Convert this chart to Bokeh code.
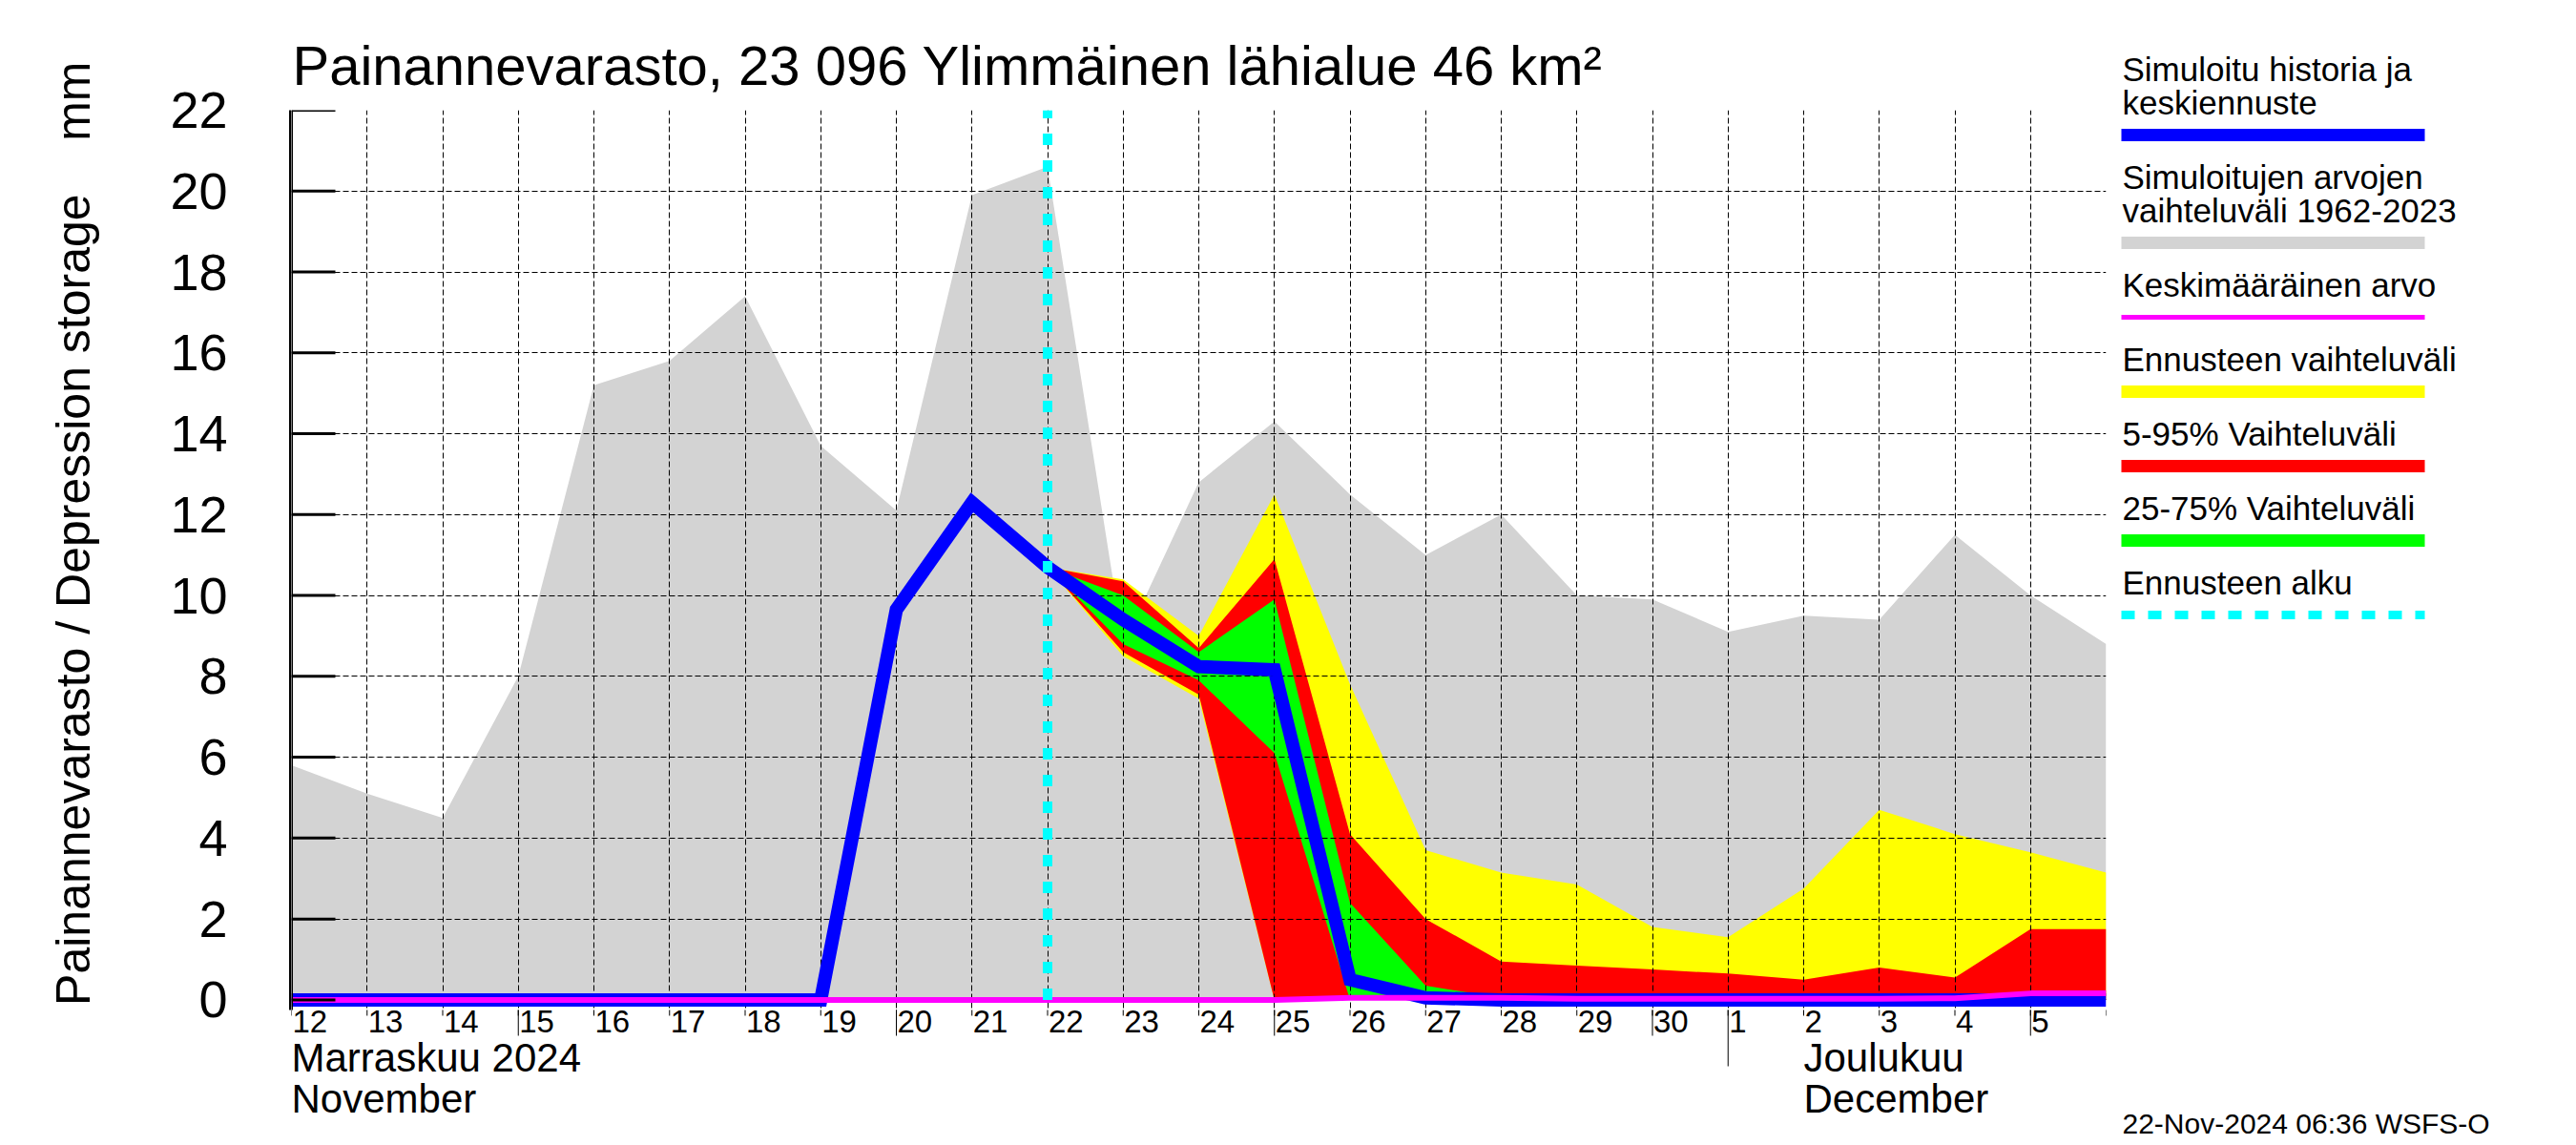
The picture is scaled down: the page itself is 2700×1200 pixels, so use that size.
from bokeh.plotting import figure
from bokeh.models import Range1d, FixedTicker
from bokeh.layouts import row
from bokeh.embed import file_html
from bokeh.resources import INLINE
from bokeh.core.properties import value

FONT = "Liberation Sans"

# ---------------- data (x = days since 12 Nov 2024 00:00) ----------------
days = list(range(25))  # 12 Nov ... 6 Dec
hist_max = [5.8, 5.1, 4.5, 8.0, 15.2, 15.8, 17.4, 13.7, 12.1, 19.9, 20.6, 8.8,
            12.8, 14.3, 12.5, 11.0, 12.0, 10.0, 9.9, 9.1, 9.5, 9.4, 11.5, 10.0, 8.8]
hist_min = [0.0] * 25
sim_mean = [0.0, 0.0, 0.0, 0.0, 0.0, 0.0, 0.0, 0.0, 9.65, 12.3, 10.7, 9.4,
            8.24, 8.16, 0.5, 0.05, 0.0, 0.0, 0.0, 0.0, 0.0, 0.0, 0.0, 0.0, 0.0]
avg_value = [0.0, 0.0, 0.0, 0.0, 0.0, 0.0, 0.0, 0.0, 0.0, 0.0, 0.0, 0.0,
             0.0, 0.0, 0.05, 0.05, 0.05, 0.03, 0.03, 0.03, 0.03, 0.03, 0.04, 0.16, 0.16]

fc_days = list(range(10, 25))  # 22 Nov ... 6 Dec
ens_hi = [10.7, 10.4, 9.0, 12.5, 7.8, 3.7, 3.15, 2.85, 1.8, 1.55, 2.75, 4.7, 4.1, 3.65, 3.15]
ens_lo = [10.7, 8.5, 7.45, 0.0, 0.0, 0.0, 0.0, 0.0, 0.0, 0.0, 0.0, 0.0, 0.0, 0.0, 0.0]
p95 = [10.7, 10.35, 8.7, 10.9, 4.1, 2.0, 0.95, 0.85, 0.75, 0.65, 0.5, 0.8, 0.55, 1.75, 1.75]
p05 = [10.7, 8.6, 7.55, 0.0, 0.0, 0.0, 0.0, 0.0, 0.0, 0.0, 0.0, 0.0, 0.0, 0.0, 0.0]
p75 = [10.7, 10.0, 8.6, 9.9, 2.4, 0.35, 0.05, 0.0, 0.0, 0.0, 0.0, 0.0, 0.0, 0.0, 0.0]
p25 = [10.7, 8.8, 7.9, 6.1, 0.0, 0.0, 0.0, 0.0, 0.0, 0.0, 0.0, 0.0, 0.0, 0.0, 0.0]

forecast_start_x = [10, 10]
forecast_start_y = [0, 22]

y_ticks = list(range(0, 23, 2))
day_label_pos = list(range(24))
day_tick_labels = ["12", "13", "14", "15", "16", "17", "18", "19", "20", "21", "22",
                   "23", "24", "25", "26", "27", "28", "29", "30", "1", "2", "3", "4", "5"]
five_day_ticks = [3, 8, 13, 18, 23]
month_start_tick = [19]
month_pos = [0, 20]
month_fi = ["Marraskuu 2024", "Joulukuu"]
month_en = ["November", "December"]

title_text = "Painannevarasto, 23 096 Ylimmäinen lähialue 46 km²"
y_label = "\u00a0" * 4 + "Painannevarasto / Depression storage" + "\u00a0" * 4 + "mm"
footer_text = "22-Nov-2024 06:36 WSFS-O"

legend_texts = [["Simuloitu historia ja", "keskiennuste"],
                ["Simuloitujen arvojen", "vaihteluväli 1962-2023"],
                ["Keskimääräinen arvo"],
                ["Ennusteen vaihteluväli"],
                ["5-95% Vaihteluväli"],
                ["25-75% Vaihteluväli"],
                ["Ennusteen alku"]]
legend_colors = ["#0000ff", "#d3d3d3", "#ff00ff", "#ffff00", "#ff0000", "#00ff00", "#00ffff"]
legend_widths = [13, 13, 5, 13, 13, 13, 9]
legend_dash = ["solid"] * 6 + ["14 14"]

# ---------------- layout constants (pixels) ----------------
W_TOTAL, H_TOTAL = 2700, 1200
AXIS_W = 305                     # width of the value-axis panel
MAIN_W = 2218 - AXIS_W
RIGHT, TOP = 11, 115
LEG_W = W_TOTAL - AXIS_W - MAIN_W
Y0_PX = 1047.4                   # screen row of value 0
PPU = (Y0_PX - TOP) / 22.0       # pixels per mm
YMIN = -(H_TOTAL - Y0_PX) / PPU  # value at the bottom edge of the main frame
AXIS_BOTTOM = -0.25              # lower end of the value axis
AXIS_BOTTOM_PX = Y0_PX - AXIS_BOTTOM * PPU
PX_PER_DAY = (MAIN_W - RIGHT) / 24.0
BASE_FIX = 0.33                  # text baseline correction (fraction of font size)


def px_to_value(px):
    return -(px - Y0_PX) / PPU


# ---------------- value axis panel ----------------
yfig = figure(width=AXIS_W, height=H_TOTAL, output_backend="svg", toolbar_location=None,
              x_range=Range1d(0, 1), y_range=Range1d(AXIS_BOTTOM, 22), x_axis_location=None,
              min_border_left=AXIS_W - 1, min_border_right=0, min_border_top=TOP,
              min_border_bottom=int(round(H_TOTAL - AXIS_BOTTOM_PX)), frame_align=False,
              background_fill_color="white", border_fill_color="white", outline_line_color=None)
yfig.grid.visible = False
yfig.yaxis.ticker = FixedTicker(ticks=y_ticks)
yfig.yaxis.major_tick_in = 0
yfig.yaxis.major_tick_out = 0
yfig.yaxis.minor_tick_line_color = None
yfig.yaxis.axis_line_width = 3
yfig.yaxis.axis_line_color = "black"
yfig.yaxis.major_label_text_font = FONT
yfig.yaxis.major_label_text_font_size = "54px"
yfig.yaxis.major_label_text_color = "black"
yfig.yaxis.major_label_standoff = 66
yfig.yaxis.axis_label = y_label
yfig.yaxis.axis_label_text_font = FONT
yfig.yaxis.axis_label_text_font_size = "50px"
yfig.yaxis.axis_label_text_font_style = "normal"
yfig.yaxis.axis_label_text_color = "black"
yfig.yaxis.axis_label_standoff = 70

# ---------------- main figure ----------------
x_rng = Range1d(0, 24)
p = figure(width=MAIN_W, height=H_TOTAL, output_backend="svg", toolbar_location=None,
           x_range=x_rng, y_range=Range1d(YMIN, 22), x_axis_location=None, y_axis_location=None,
           min_border_left=0, min_border_right=RIGHT, min_border_top=TOP, min_border_bottom=0,
           frame_align=False,
           background_fill_color="white", border_fill_color="white", outline_line_color=None)

p.title.text = title_text
p.title.text_font = FONT
p.title.text_font_size = "58px"
p.title.text_font_style = "normal"
p.title.text_color = "black"
p.title.align = "left"
p.title.offset = 1
p.title.standoff = 29

p.varea(x=days, y1=hist_min, y2=hist_max, fill_color="#d3d3d3", level="image")
p.varea(x=fc_days, y1=ens_lo, y2=ens_hi, fill_color="#ffff00", level="image")
p.varea(x=fc_days, y1=p05, y2=p95, fill_color="#ff0000", level="image")
p.varea(x=fc_days, y1=p25, y2=p75, fill_color="#00ff00", level="image")

# white band below the value axis: the time labels sit there, without grid lines
p.varea(x=[x_rng.start, x_rng.end], y1=[YMIN, YMIN], y2=[AXIS_BOTTOM, AXIS_BOTTOM],
        fill_color="white", level="glyph")

p.line(days, sim_mean, line_color="#0000ff", line_width=14, line_join="miter")
p.line(days, avg_value, line_color="#ff00ff", line_width=6)
p.line(forecast_start_x, forecast_start_y, line_color="#00ffff", line_width=10, line_dash="12 16")

# value-axis line and inward ticks (continuation of the axis panel)
p.segment(x0=[x_rng.start], x1=[x_rng.start], y0=[AXIS_BOTTOM], y1=[22],
          line_color="black", line_width=3)
p.segment(x0=[x_rng.start] * len(y_ticks), x1=[x_rng.start + 46 / PX_PER_DAY] * len(y_ticks),
          y0=y_ticks, y1=y_ticks, line_color="black", line_width=3)

# time-axis tick marks
p.segment(x0=days, x1=days, y0=[AXIS_BOTTOM] * len(days),
          y1=[AXIS_BOTTOM - 6 / PPU] * len(days), line_color="black", line_width=1)
p.segment(x0=five_day_ticks, x1=five_day_ticks, y0=[AXIS_BOTTOM] * len(five_day_ticks),
          y1=[AXIS_BOTTOM - 27 / PPU] * len(five_day_ticks), line_color="black", line_width=1)
p.segment(x0=month_start_tick, x1=month_start_tick, y0=[AXIS_BOTTOM], y1=[px_to_value(1117)],
          line_color="black", line_width=1)

# time-axis labels
p.text(x=day_label_pos, y=[px_to_value(1081 - BASE_FIX * 33)] * len(day_label_pos),
       text=day_tick_labels, x_offset=1, text_font=value(FONT), text_font_size="33px",
       text_align="left", text_baseline="alphabetic", text_color="black")
p.text(x=month_pos, y=[px_to_value(1122 - BASE_FIX * 42)] * len(month_pos), text=month_fi,
       text_font=value(FONT), text_font_size="42px", text_align="left",
       text_baseline="alphabetic", text_color="black")
p.text(x=month_pos, y=[px_to_value(1165 - BASE_FIX * 42)] * len(month_pos), text=month_en,
       text_font=value(FONT), text_font_size="42px", text_align="left",
       text_baseline="alphabetic", text_color="black")

p.xgrid.ticker = FixedTicker(ticks=days)
p.ygrid.ticker = FixedTicker(ticks=y_ticks)
for g in (p.xgrid, p.ygrid):
    g.grid_line_color = "black"
    g.grid_line_width = 1
    g.grid_line_dash = "6 3"
    g.level = "underlay"

# ---------------- legend panel ----------------
lg = figure(width=LEG_W, height=H_TOTAL, output_backend="svg", toolbar_location=None,
            x_range=Range1d(0, LEG_W), y_range=Range1d(H_TOTAL, 0),
            x_axis_type=None, y_axis_type=None, min_border=0, frame_align=False,
            background_fill_color="white", border_fill_color="white", outline_line_color=None)
lg.grid.visible = False

sample_x0, sample_x1, text_x = 5, 323, 6
first_line_y, entry_step, text_line_step, text_gap = 141, 78, 35, 22
leg_font = 35
tx, ty, tt = [], [], []
line_y = []
extra = 0
for i, lines in enumerate(legend_texts):
    if i > 0:
        extra += len(lines) - 1
    yl = first_line_y + entry_step * i + text_line_step * extra
    line_y.append(yl)
    n = len(lines)
    for j, s in enumerate(lines):
        tx.append(text_x)
        ty.append(yl - text_gap - text_line_step * (n - 1 - j) - BASE_FIX * leg_font)
        tt.append(s)

lg.text(x=tx, y=ty, text=tt, text_font=value(FONT), text_font_size=f"{leg_font}px",
        text_align="left", text_baseline="alphabetic", text_color="black")
for yl, c, w, dsh in zip(line_y, legend_colors, legend_widths, legend_dash):
    lg.line([sample_x0, sample_x1], [yl, yl], line_color=c, line_width=w, line_dash=dsh)

lg.text(x=[text_x], y=[1187 - BASE_FIX * 30], text=[footer_text], text_font=value(FONT),
        text_font_size="30px", text_align="left", text_baseline="alphabetic", text_color="black")

layout = row(yfig, p, lg)
open("out.html", "w").write(file_html(layout, INLINE))
